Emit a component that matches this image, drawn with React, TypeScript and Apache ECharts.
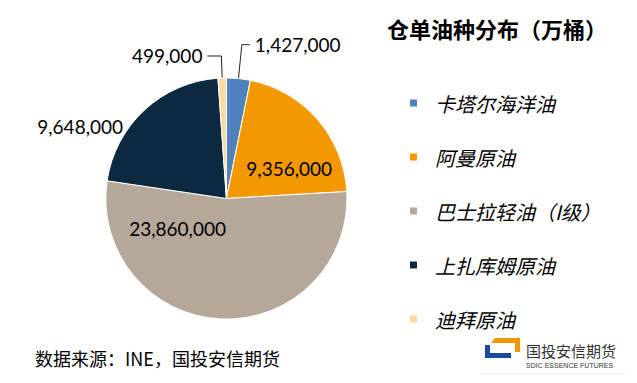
import React, { useEffect, useRef } from "react";
import * as echarts from "echarts";

const categories = ["卡塔尔海洋油", "阿曼原油", "巴士拉轻油（I级）", "上扎库姆原油", "迪拜原油"];
const values = [1427000, 9356000, 23860000, 9648000, 499000];
const colors = ["#4F81BD", "#F39800", "#B5A79A", "#0B2A3F", "#F8DBA3"];
const labelPositions = ["outside", "inside", "inside", "outside", "outside"];
const showLines = [true, false, false, false, true];
const lineLengths = [34, 5, 5, 8, 22];
const lineLengths2 = [8, 5, 5, 6, 14];
const labelShifts = [
  [0, 0],
  [15, 11],
  [-46, -33],
  [-5, 22],
  [0, 0],
];

const titleText = "仓单油种分布（万桶）";
const sourceText = "数据来源：INE，国投安信期货";

export default function App() {
  const ref = useRef<HTMLDivElement>(null);

  useEffect(() => {
    if (!ref.current) return;
    const chart = echarts.init(ref.current, null, { renderer: "svg" });
    const data = categories.map((name, i) => ({
      name,
      value: values[i],
      itemStyle: { color: colors[i] },
      label: { position: labelPositions[i] },
      labelLine: {
        show: showLines[i],
        length: lineLengths[i],
        length2: lineLengths2[i],
      },
    }));
    chart.setOption({
      animation: false,
      backgroundColor: "#ffffff",
      title: {
        text: titleText,
        left: 382,
        top: 12,
        textStyle: {
          fontFamily: "Noto Sans CJK SC",
          fontSize: 22,
          fontWeight: "bold",
          color: "#000",
        },
      },
      legend: {
        orient: "vertical",
        left: 403,
        top: 88,
        itemWidth: 9,
        itemHeight: 9,
        itemGap: 34,
        icon: "rect",
        data: categories,
        textStyle: {
          fontFamily: "Noto Sans CJK SC",
          fontSize: 20,
          fontStyle: "italic",
          lineHeight: 20,
          color: "#000",
          padding: [0, 0, 0, 12],
        },
      },
      series: [
        {
          type: "pie",
          center: [226.4, 198.5],
          radius: 120.6,
          startAngle: 90,
          clockwise: true,
          avoidLabelOverlap: false,
          itemStyle: { borderColor: "#fff", borderWidth: 1 },
          label: {
            show: true,
            formatter: (p: any) => p.value.toLocaleString("en-US"),
            fontFamily: "Lato",
            fontSize: 19,
            color: "#000",
          },
          labelLine: {
            lineStyle: { color: "#222", width: 1 },
          },
          labelLayout: (p: any) => {
            const s = labelShifts[p.dataIndex];
            return { dx: s[0], dy: s[1] };
          },
          emphasis: { disabled: true },
          data,
        },
      ],
      graphic: [
        {
          type: "text",
          left: 35,
          top: 349,
          style: {
            text: sourceText,
            fontFamily: "Noto Sans CJK SC",
            fontSize: 18,
            fill: "#000",
          },
        },
        {
          type: "polygon",
          shape: {
            points: [
              [485, 345],
              [490, 345],
              [490, 353],
              [511, 353],
              [511, 358],
              [485, 358],
            ],
          },
          style: { fill: "#1A4A9C" },
        },
        {
          type: "polygon",
          shape: {
            points: [
              [495, 338],
              [520, 338],
              [520, 352],
              [515, 352],
              [515, 343],
              [491, 343],
            ],
          },
          style: { fill: "#F39800" },
        },
        {
          type: "text",
          x: 526,
          y: 350,
          style: {
            text: "国投安信期货",
            fontFamily: "Noto Sans CJK SC",
            fontSize: 15,
            lineHeight: 15,
            verticalAlign: "middle",
            fill: "#333",
          },
        },
        {
          type: "text",
          x: 526,
          y: 365.5,
          style: {
            text: "SDIC ESSENCE FUTURES",
            fontFamily: "Liberation Sans",
            fontSize: 7,
            lineHeight: 7,
            verticalAlign: "middle",
            fill: "#333",
          },
        },
        {
          type: "line",
          shape: { x1: 480, y1: 374, x2: 625, y2: 374 },
          style: { stroke: "#eeeeee", lineWidth: 1 },
        },
      ],
    });
    return () => chart.dispose();
  }, []);

  return (
    <div
      ref={ref}
      style={{ position: "fixed", left: 0, top: 0, width: 637, height: 383 }}
    />
  );
}
